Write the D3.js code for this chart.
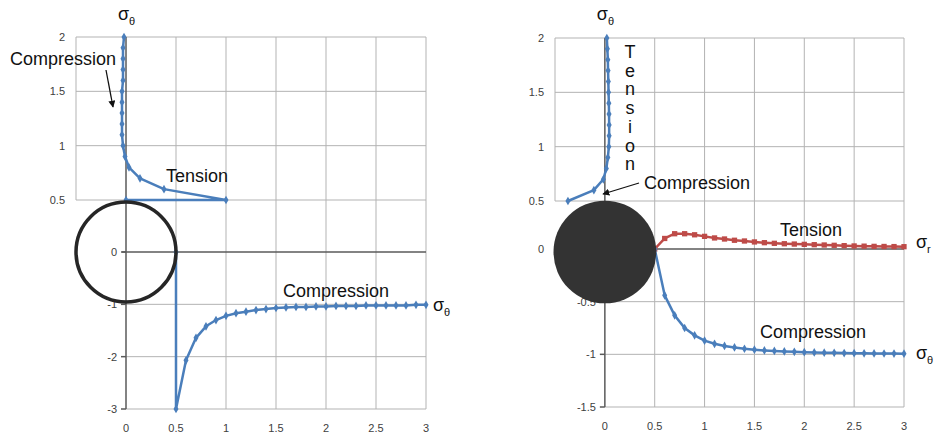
<!DOCTYPE html>
<html>
<head>
<meta charset="utf-8">
<script src="https://cdn.jsdelivr.net/npm/d3@7"></script>
<style>
  body { margin: 0; background: #fff; }
  svg { display: block; font-family: "Liberation Sans", Arial, sans-serif; }
  .tick-label { font-size: 11px; fill: #404040; }
  .note { font-size: 18px; fill: #111; }
  .grid { stroke: #b3b3b3; stroke-width: 1; }
  .axis-line { stroke: #5a5a5a; stroke-width: 1.5; }
</style>
</head>
<body>
<svg id="chart" width="935" height="435"></svg>
<script>

  /* -----------------------
      DATA
   -------------------------- */

  //-- TICK LABELS
  var xTicks = [0, 0.5, 1, 1.5, 2, 2.5, 3];
  var leftTopYTicks = [0.5, 1, 1.5, 2];
  var leftBotYTicks = [0, -1, -2, -3];
  var rightTopYTicks = [0.5, 1, 1.5, 2];
  var rightBotYTicks = [-0.5, -1, -1.5];
  var rightOuterTicks = [0];

  //-- LEFT PANEL, UPPER: POSITION (Y) VS SIGMA THETA (X)
  var leftTopPos = [2.0, 1.9, 1.8, 1.7, 1.6, 1.5, 1.4, 1.3, 1.2, 1.1, 1.0, 0.9, 0.8, 0.7, 0.6, 0.5, 0.5];
  var leftTopStress = [-0.02, -0.03, -0.03, -0.03, -0.03, -0.04, -0.04, -0.04, -0.04, -0.04, -0.03, -0.01, 0.03, 0.14, 0.38, 1.0, 0];

  //-- LEFT PANEL, LOWER: POSITION (X) VS SIGMA THETA (Y)
  var leftBotPos = [0.5, 0.5, 0.6, 0.7, 0.8, 0.9, 1.0, 1.1, 1.2, 1.3, 1.4, 1.5, 1.6, 1.7, 1.8, 1.9, 2.0,
    2.1, 2.2, 2.3, 2.4, 2.5, 2.6, 2.7, 2.8, 2.9, 3.0];
  var leftBotStress = [0, -3.0, -2.07, -1.64, -1.42, -1.30, -1.22, -1.17, -1.14, -1.11, -1.09, -1.07, -1.06,
    -1.05, -1.05, -1.04, -1.04, -1.03, -1.03, -1.03, -1.02, -1.02, -1.02, -1.02, -1.02, -1.01, -1.01];

  //-- RIGHT PANEL, UPPER: POSITION (Y) VS SIGMA THETA (X)
  var rightTopPos = [2.0, 1.9, 1.8, 1.7, 1.6, 1.5, 1.4, 1.3, 1.2, 1.1, 1.0, 0.9, 0.8, 0.7, 0.6, 0.5];
  var rightTopStress = [0.02, 0.025, 0.03, 0.032, 0.035, 0.037, 0.04, 0.042, 0.043, 0.043, 0.04, 0.03, 0.015, -0.015, -0.11, -0.37];

  //-- RIGHT PANEL, LOWER: POSITION (X) VS SIGMA THETA AND SIGMA R (Y)
  var rightBotPos = [0.5, 0.6, 0.7, 0.8, 0.9, 1.0, 1.1, 1.2, 1.3, 1.4, 1.5, 1.6, 1.7, 1.8, 1.9, 2.0,
    2.1, 2.2, 2.3, 2.4, 2.5, 2.6, 2.7, 2.8, 2.9, 3.0];
  var rightBotTheta = [0, -0.44, -0.63, -0.75, -0.82, -0.87, -0.90, -0.92, -0.935, -0.947, -0.956, -0.963,
    -0.968, -0.972, -0.976, -0.98, -0.982, -0.984, -0.986, -0.988, -0.989, -0.99, -0.991, -0.992, -0.993, -0.994];
  var rightBotR = [0, 0.10, 0.145, 0.145, 0.135, 0.12, 0.105, 0.095, 0.083, 0.076, 0.067, 0.060,
    0.054, 0.050, 0.047, 0.044, 0.041, 0.038, 0.035, 0.032, 0.029, 0.027, 0.025, 0.024, 0.023, 0.022];

  /* -----------------------
      STYLE
   -------------------------- */
  var blue = '#4a7ebb',
    red = '#be4b48';

  var svg = d3.select('#chart');

  svg.append('rect')
    .attr('width', 935)
    .attr('height', 435)
    .attr('fill', '#fff');

  //-- ARROW HEAD
  svg.append('defs').append('marker')
    .attr('id', 'arrow')
    .attr('viewBox', '0 0 10 10')
    .attr('refX', 9)
    .attr('refY', 5)
    .attr('markerWidth', 7)
    .attr('markerHeight', 7)
    .attr('markerUnits', 'userSpaceOnUse')
    .attr('orient', 'auto')
    .append('path')
    .attr('d', 'M0,0 L10,5 L0,10 z')
    .attr('fill', '#111');

  /* -----------------------
      HELPERS
   -------------------------- */
  function zip(xs, ys) {
    return xs.map(function(d, i) { return [d, ys[i]]; });
  }

  function drawSeries(g, pts, x, y, color, shape, size) {
    var line = d3.line()
      .x(function(d) { return x(d[0]); })
      .y(function(d) { return y(d[1]); });

    g.append('path')
      .datum(pts)
      .attr('d', line)
      .attr('fill', 'none')
      .attr('stroke', color)
      .attr('stroke-width', 2.5)
      .attr('stroke-linejoin', 'round');

    g.selectAll(null)
      .data(pts)
      .enter().append('path')
      .attr('transform', function(d) { return 'translate(' + x(d[0]) + ',' + y(d[1]) + ')'; })
      .attr('d', d3.symbol().type(shape).size(size))
      .attr('fill', color);
  }

  function sigma(g, px, py, sub) {
    var t = g.append('text')
      .attr('class', 'note')
      .attr('x', px)
      .attr('y', py);
    t.append('tspan').text('σ');
    t.append('tspan')
      .attr('dy', 5)
      .attr('font-size', '11px')
      .text(sub);
  }

  function drawPanel(p) {
    var g = svg.append('g');
    var x = p.x, yT = p.yTop, yB = p.yBot;

    //--- VERTICAL GRID
    g.selectAll(null)
      .data(xTicks.filter(function(d) { return d > 0; }))
      .enter().append('line')
      .attr('class', 'grid')
      .attr('x1', function(d) { return x(d); })
      .attr('x2', function(d) { return x(d); })
      .attr('y1', yT(2))
      .attr('y2', yB(p.yBotMin));

    g.append('line')
      .attr('class', 'grid')
      .attr('x1', x(-0.5)).attr('x2', x(-0.5))
      .attr('y1', yT(2)).attr('y2', yT(0.5));

    //--- HORIZONTAL GRID, UPPER
    g.selectAll(null)
      .data(p.topTicks)
      .enter().append('line')
      .attr('class', 'grid')
      .attr('x1', x(-0.5))
      .attr('x2', x(3))
      .attr('y1', function(d) { return yT(d); })
      .attr('y2', function(d) { return yT(d); });

    //--- HORIZONTAL GRID, LOWER
    g.selectAll(null)
      .data(p.botTicks.filter(function(d) { return d < 0; }))
      .enter().append('line')
      .attr('class', 'grid')
      .attr('x1', x(0))
      .attr('x2', x(3))
      .attr('y1', function(d) { return yB(d); })
      .attr('y2', function(d) { return yB(d); });

    //--- AXES
    g.append('line')
      .attr('class', 'axis-line')
      .attr('x1', x(0) - 4).attr('x2', x(3))
      .attr('y1', yB(0)).attr('y2', yB(0));

    g.append('line')
      .attr('class', 'axis-line')
      .attr('x1', x(0)).attr('x2', x(0))
      .attr('y1', yT(2)).attr('y2', yB(p.yBotMin));

    g.selectAll(null)
      .data(p.botTicks)
      .enter().append('line')
      .attr('class', 'axis-line')
      .attr('stroke-width', 1)
      .attr('x1', x(0) - 5)
      .attr('x2', x(0))
      .attr('y1', function(d) { return yB(d); })
      .attr('y2', function(d) { return yB(d); });

    //--- TICK LABELS
    g.selectAll(null)
      .data(p.topTicks)
      .enter().append('text')
      .attr('class', 'tick-label')
      .attr('text-anchor', 'end')
      .attr('x', x(-0.5) - 11)
      .attr('y', function(d) { return yT(d) + 4; })
      .text(function(d) { return d; });

    g.selectAll(null)
      .data(p.outerTicks)
      .enter().append('text')
      .attr('class', 'tick-label')
      .attr('text-anchor', 'end')
      .attr('x', x(-0.5) - 11)
      .attr('y', function(d) { return yB(d) + 4; })
      .text(function(d) { return d; });

    g.selectAll(null)
      .data(p.botTicks)
      .enter().append('text')
      .attr('class', 'tick-label')
      .attr('text-anchor', 'end')
      .attr('x', x(0) - 9)
      .attr('y', function(d) { return yB(d) + 4; })
      .text(function(d) { return d; });

    g.selectAll(null)
      .data(xTicks)
      .enter().append('text')
      .attr('class', 'tick-label')
      .attr('text-anchor', 'middle')
      .attr('x', function(d) { return x(d); })
      .attr('y', yB(p.yBotMin) + 23)
      .text(function(d) { return d; });

    return g;
  }

  /* -----------------------
      LEFT PANEL
   -------------------------- */
  var L = {
    x: d3.scaleLinear().domain([-0.5, 3]).range([76, 426]),
    yTop: d3.scaleLinear().domain([0.5, 2]).range([200, 37]),
    yBot: d3.scaleLinear().domain([-3, 0]).range([409, 252]),
    yBotMin: -3,
    topTicks: leftTopYTicks,
    botTicks: leftBotYTicks,
    outerTicks: []
  };
  var gL = drawPanel(L);

  drawSeries(gL, zip(leftTopStress, leftTopPos), L.x, L.yTop, blue, d3.symbolDiamond, 22);
  drawSeries(gL, zip(leftBotPos, leftBotStress), L.x, L.yBot, blue, d3.symbolDiamond, 22);

  //--- HOLE OUTLINE
  gL.append('circle')
    .attr('cx', L.x(0))
    .attr('cy', L.yBot(0))
    .attr('r', L.x(0.5) - L.x(0))
    .attr('fill', 'none')
    .attr('stroke', '#262626')
    .attr('stroke-width', 3.5);

  //--- NOTES
  sigma(gL, L.x(0) - 8, 20, 'θ');
  sigma(gL, L.x(3) + 7, 311, 'θ');

  gL.append('text').attr('class', 'note').attr('x', 10).attr('y', 65).text('Compression');
  gL.append('text').attr('class', 'note').attr('x', 166).attr('y', 182).text('Tension');
  gL.append('text').attr('class', 'note').attr('x', 283).attr('y', 297).text('Compression');

  gL.append('line')
    .attr('x1', 106).attr('y1', 70)
    .attr('x2', 113).attr('y2', 107)
    .attr('stroke', '#111')
    .attr('stroke-width', 1.3)
    .attr('marker-end', 'url(#arrow)');

  /* -----------------------
      RIGHT PANEL
   -------------------------- */
  var R = {
    x: d3.scaleLinear().domain([-0.5, 3]).range([555, 904]),
    yTop: d3.scaleLinear().domain([0.5, 2]).range([201, 38]),
    yBot: d3.scaleLinear().domain([-1.5, 0]).range([407, 249]),
    yBotMin: -1.5,
    topTicks: rightTopYTicks,
    botTicks: rightBotYTicks,
    outerTicks: rightOuterTicks
  };
  var gR = drawPanel(R);

  drawSeries(gR, zip(rightTopStress, rightTopPos), R.x, R.yTop, blue, d3.symbolDiamond, 22);
  drawSeries(gR, zip(rightBotPos, rightBotR), R.x, R.yBot, red, d3.symbolSquare, 28);
  drawSeries(gR, zip(rightBotPos, rightBotTheta), R.x, R.yBot, blue, d3.symbolDiamond, 22);

  //--- SOLID INCLUSION
  gR.append('circle')
    .attr('cx', R.x(0))
    .attr('cy', R.yBot(0) + 3)
    .attr('r', R.x(0.5) - R.x(0) + 1.5)
    .attr('fill', '#333');

  //--- NOTES
  sigma(gR, R.x(0) - 8, 20, 'θ');
  sigma(gR, R.x(3) + 12, 248, 'r');
  sigma(gR, R.x(3) + 12, 359, 'θ');

  var vt = gR.append('text')
    .attr('class', 'note')
    .attr('text-anchor', 'middle');
  'Tension'.split('').forEach(function(ch, i) {
    vt.append('tspan')
      .attr('x', 630)
      .attr('y', 58 + i * 18.7)
      .text(ch);
  });

  gR.append('text').attr('class', 'note').attr('x', 644).attr('y', 189).text('Compression');
  gR.append('text').attr('class', 'note').attr('x', 780).attr('y', 236).text('Tension');
  gR.append('text').attr('class', 'note').attr('x', 760).attr('y', 338).text('Compression');

  gR.append('line')
    .attr('x1', 639).attr('y1', 183)
    .attr('x2', 603).attr('y2', 194)
    .attr('stroke', '#111')
    .attr('stroke-width', 1.3)
    .attr('marker-end', 'url(#arrow)');

</script>
</body>
</html>
